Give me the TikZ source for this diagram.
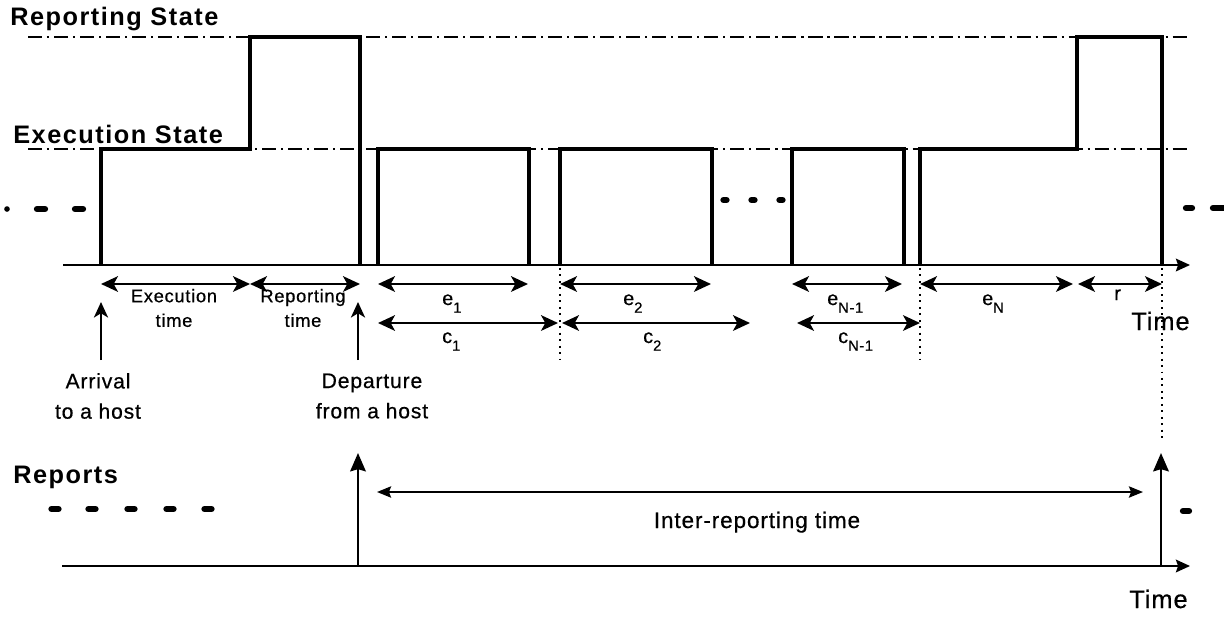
\documentclass[tikz,border=0pt]{standalone}
\usepackage{fontspec}
\setmainfont{Liberation Sans}
\newfontfamily\titlefont{Liberation Sans}[LetterSpace=6]
\newfontfamily\labelfont{Liberation Sans}[LetterSpace=4, FakeBold=0.6]
\usetikzlibrary{arrows.meta}

\newcommand\lowidx[1]{\raisebox{-5.5pt}{\fontsize{10.5}{10.5}\selectfont #1}}

\tikzset{
    title/.style={font=\titlefont\bfseries\fontsize{18}{20}\selectfont, inner sep=0pt, anchor=base west},
    lbl/.style={font=\labelfont\fontsize{15}{21.5}\selectfont, inner sep=0pt, align=center},
    small lbl/.style={font=\labelfont\fontsize{13}{17.5}\selectfont, inner sep=0pt, align=center},
    idx/.style={font=\labelfont\fontsize{14}{16}\selectfont, inner sep=0pt, anchor=base west},
    level/.style={line width=1.2pt, dash pattern=on 10pt off 3.5pt on 1.5pt off 3.5pt},
    signal/.style={line width=3.2pt, line join=miter},
    axis/.style={line width=1.5pt, -{Stealth[length=10pt, width=9pt, inset=1.5pt]}},
    guide/.style={line width=1.4pt, dash pattern=on 1.4pt off 3.2pt},
    span/.style={line width=2.1pt, {Stealth[length=12pt, width=11pt, inset=3pt]}-{Stealth[length=12pt, width=11pt, inset=3pt]}},
    mark arrow/.style={line width=1.7pt, -{Stealth[length=11pt, width=10pt, inset=3pt]}},
    report/.style={line width=1.9pt, -{Stealth[length=13pt, width=11pt, inset=1.5pt]}},
    long span/.style={line width=1.4pt, {Stealth[length=10pt, width=8pt, inset=1.5pt]}-{Stealth[length=10pt, width=8pt, inset=1.5pt]}},
    blob/.style={line width=4.5pt, line cap=round}
}

\begin{document}
\begin{tikzpicture}[x=0.025cm, y=-0.025cm]
    \useasboundingbox (0,0) rectangle (1224,620);

    % state levels
    \draw[level] (28,37) -- (1190,37);
    \draw[level] (28,149) -- (1190,149);
    \node[title] (repstate) at (10,25) {Reporting State};
    \node[title] (exestate) at (13,143) {Execution State};

    % time axis and the agent's state
    \draw[axis] (63,265) -- (1190,265);
    \draw[signal] (101,265) |- (250,149) |- (360,37) -- (360,265);
    \foreach \a/\b in {378/529, 560/712, 792/904}
        \draw[signal] (\a,265) |- (\b,149) -- (\b,265);
    \draw[signal] (920,265) |- (1077,149) |- (1162,37) -- (1162,265);

    % continuation marks
    \fill (7,209) circle (2pt);
    \foreach \x in {41, 79}
        \draw[blob] (\x-4,209) -- (\x+4,209);
    \foreach \x in {725, 753, 781}
        \draw[blob] (\x-1.5,200) -- (\x+1.5,200);
    \draw[blob] (1186,208) -- (1192,208);
    \draw[blob] (1213,208) -- (1224,208);

    % dotted guides
    \draw[guide] (560,268) -- (560,360);
    \draw[guide] (920,268) -- (920,360);
    \draw[guide] (1162,268) -- (1162,442);

    % durations
    \foreach \a/\b/\y in {101/250/284, 250/360/284, 378/528/284, 560/711/284,
                          792/902/284, 920/1073/284, 1078/1162/284,
                          378/558/323, 562/750/323, 797/920/323}
        \draw[span] (\a,\y) -- (\b,\y);

    \node[small lbl] (exetime) at (174,308) {Execution\\time};
    \node[small lbl] (reptime) at (303,308) {Reporting\\time};
    \node[idx] (e1) at (442,305) {e\lowidx{1}};
    \node[idx] (c1) at (442,343) {c\lowidx{1}};
    \node[idx] (e2) at (623,305) {e\lowidx{2}};
    \node[idx] (c2) at (643,343) {c\lowidx{2}};
    \node[idx] (en1) at (827,305) {e\lowidx{N-1}};
    \node[idx] (cn1) at (838,343) {c\lowidx{N-1}};
    \node[idx] (en) at (982,305) {e\lowidx{N}};
    \node[idx] (rr) at (1114,300) {r};
    \node[lbl, anchor=base west, font=\labelfont\fontsize{18}{20}\selectfont] (time1) at (1131,330) {Time};

    % arrival and departure
    \draw[mark arrow] (101,360) -- (101,302);
    \draw[mark arrow] (358,360) -- (358,302);
    \node[lbl] (arrival) at (98,396) {Arrival\\to a host};
    \node[lbl] (departure) at (372,396) {Departure\\from a host};

    % reports
    \node[title] (reports) at (13,483) {Reports};
    \foreach \x in {55, 92, 131, 170, 208}
        \draw[blob] (\x-3.5,509) -- (\x+3.5,509);
    \draw[blob] (1183,511) -- (1189,511);
    \draw[axis] (62,566) -- (1190,566);
    \draw[report] (358,566) -- (358,453);
    \draw[report] (1161,566) -- (1161,453);
    \draw[long span] (377,492) -- (1143,492);
    \node[lbl, anchor=base, font=\labelfont\fontsize{16}{18}\selectfont] (interrep) at (757,528) {Inter-reporting time};
    \node[lbl, anchor=base west, font=\labelfont\fontsize{18}{20}\selectfont] (time2) at (1129,608) {Time};
\end{tikzpicture}
\end{document}
